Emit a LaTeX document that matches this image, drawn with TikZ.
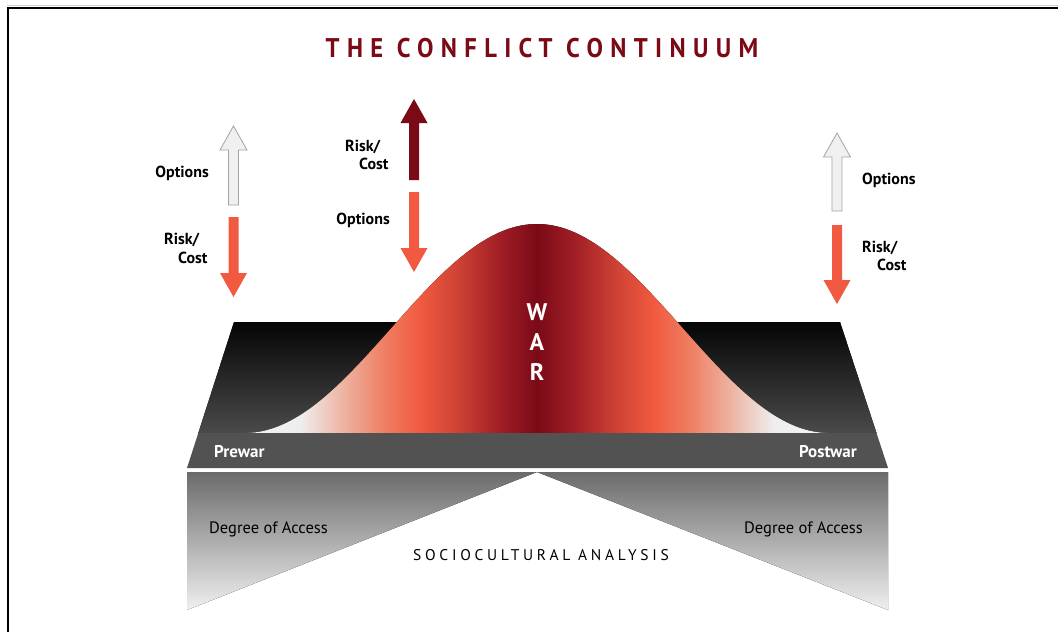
\documentclass[tikz,border=0pt]{standalone}
\usepackage{fontspec}
\setmainfont{PT Sans}
\newfontfamily\spaced{PT Sans}[LetterSpace=24]
\newfontfamily\titlefont{PT Sans}[LetterSpace=30]
\definecolor{darkred}{HTML}{7B0A17}
\definecolor{orng}{HTML}{F15A40}
\definecolor{lgray}{HTML}{F0F0F0}
\definecolor{agray}{HTML}{A4A4A4}
\definecolor{bw}{HTML}{F4F4F4}
\definecolor{bw2}{HTML}{EEEEEE}
\definecolor{salm}{HTML}{EEB09E}
\definecolor{salm2}{HTML}{EF7D61}
\definecolor{red2}{HTML}{CC4034}
\definecolor{red3}{HTML}{A01E25}
\pgfdeclarehorizontalshading{bell}{100bp}{color(0bp)=(bw); color(25bp)=(bw); color(29.6bp)=(bw2); color(33.5bp)=(salm); color(36.9bp)=(salm2); color(39.9bp)=(orng); color(43.4bp)=(red2); color(46.8bp)=(red3); color(50bp)=(darkred); color(53.2bp)=(red3); color(56.6bp)=(red2); color(60.1bp)=(orng); color(63.1bp)=(salm2); color(66.5bp)=(salm); color(70.4bp)=(bw2); color(75bp)=(bw); color(100bp)=(bw)}
\newcommand\arrowup[4]{\filldraw[#4] (#1,#2) -- (#1+13.5,#2+24) -- (#1+5,#2+24) -- (#1+5,#3) -- (#1-5,#3) -- (#1-5,#2+24) -- (#1-13.5,#2+24) -- cycle;}
\newcommand\arrowdown[4]{\filldraw[#4] (#1,#2) -- (#1+13.5,#2-24) -- (#1+5,#2-24) -- (#1+5,#3) -- (#1-5,#3) -- (#1-5,#2-24) -- (#1-13.5,#2-24) -- cycle;}
\tikzset{
  lab/.style={font=\bfseries\fontsize{16}{18}\selectfont, inner sep=0pt, text=black},
  onplat/.style={font=\bfseries\fontsize{17}{18}\selectfont, inner sep=0pt, text=white},
  warletter/.style={font=\bfseries\fontsize{24}{26}\selectfont, inner sep=0pt, text=white, anchor=base},
  access/.style={font=\fontsize{16.5}{18}\selectfont, inner sep=0pt, text=black},
  grayarrow/.style={fill=lgray, draw=agray, line width=0.8pt},
  orngarrow/.style={fill=orng, draw=none},
  redarrow/.style={fill=darkred, draw=none}
}
\begin{document}
\begin{tikzpicture}[x=1pt,y=-1pt]
\useasboundingbox (0,0) rectangle (1058,632);
\fill[white] (0,0) rectangle (1058,632);
% frame
\draw[gray!40, line width=1pt] (7,5) -- (1058,5);
\draw[black, line width=2pt] (1058,7.5) -- (7.5,7.5) -- (7.5,632);
% title
\node[inner sep=0pt, anchor=base, text=darkred] (title) at (542,57) {\scalebox{0.91}[1]{\titlefont\bfseries\fontsize{27}{30}\selectfont THE CONFLICT CONTINUUM}};
% platform
\fill[top color=black!98, bottom color=black!71] (234,322) -- (840,322) -- (876.5,433) -- (198.3,433) -- cycle;
\fill[black!68] (198.3,433) -- (876.5,433) -- (888,468) -- (187,468) -- cycle;
% lower triangles
\fill[top color=black!58, bottom color=black!6] (187,472) -- (537,472) -- (187,610) -- cycle;
\fill[top color=black!58, bottom color=black!6] (537,472) -- (888,472) -- (888,610) -- cycle;
% bell curve
\fill[shading=bell] plot[domain=-290:290, samples=161] ({537+\x},{433-104.5*(1+cos(0.61644*\x))}) -- cycle;
% arrows
\arrowup{233.5}{126}{205}{grayarrow}
\arrowdown{233.5}{297}{217}{orngarrow}
\arrowup{414}{99}{180}{redarrow}
\arrowdown{414}{272}{192}{orngarrow}
\arrowup{837}{133}{211}{grayarrow}
\arrowdown{837}{304}{225}{orngarrow}
% labels
\node[lab, anchor=base east] (opt1) at (209,177) {Options};
\node[lab, anchor=base west] (risk1) at (164,244) {Risk/};
\node[lab, anchor=base west] (cost1) at (178,263) {Cost};
\node[lab, anchor=base west] (risk2) at (345,151) {Risk/};
\node[lab, anchor=base west] (cost2) at (359,169) {Cost};
\node[lab, anchor=base east] (opt2) at (390,224) {Options};
\node[lab, anchor=base west] (opt3) at (862,184) {Options};
\node[lab, anchor=base west] (risk3) at (862,252) {Risk/};
\node[lab, anchor=base west] (cost3) at (877,270) {Cost};
% platform texts
\node[onplat, anchor=base west] (prewar) at (214,457) {Prewar};
\node[onplat, anchor=base east] (postwar) at (857,457) {Postwar};
\node[warletter] (w) at (537,320) {W};
\node[warletter] (a) at (537,350) {A};
\node[warletter] (r) at (537,380) {R};
% bottom texts
\node[access, anchor=base west] (acc1) at (209,533) {Degree of Access};
\node[access, anchor=base east] (acc2) at (863,533) {Degree of Access};
\node[inner sep=0pt, anchor=base, font=\spaced\fontsize{15.5}{16}\selectfont] (socio) at (541,560) {SOCIOCULTURAL ANALYSIS};
\end{tikzpicture}
\end{document}
